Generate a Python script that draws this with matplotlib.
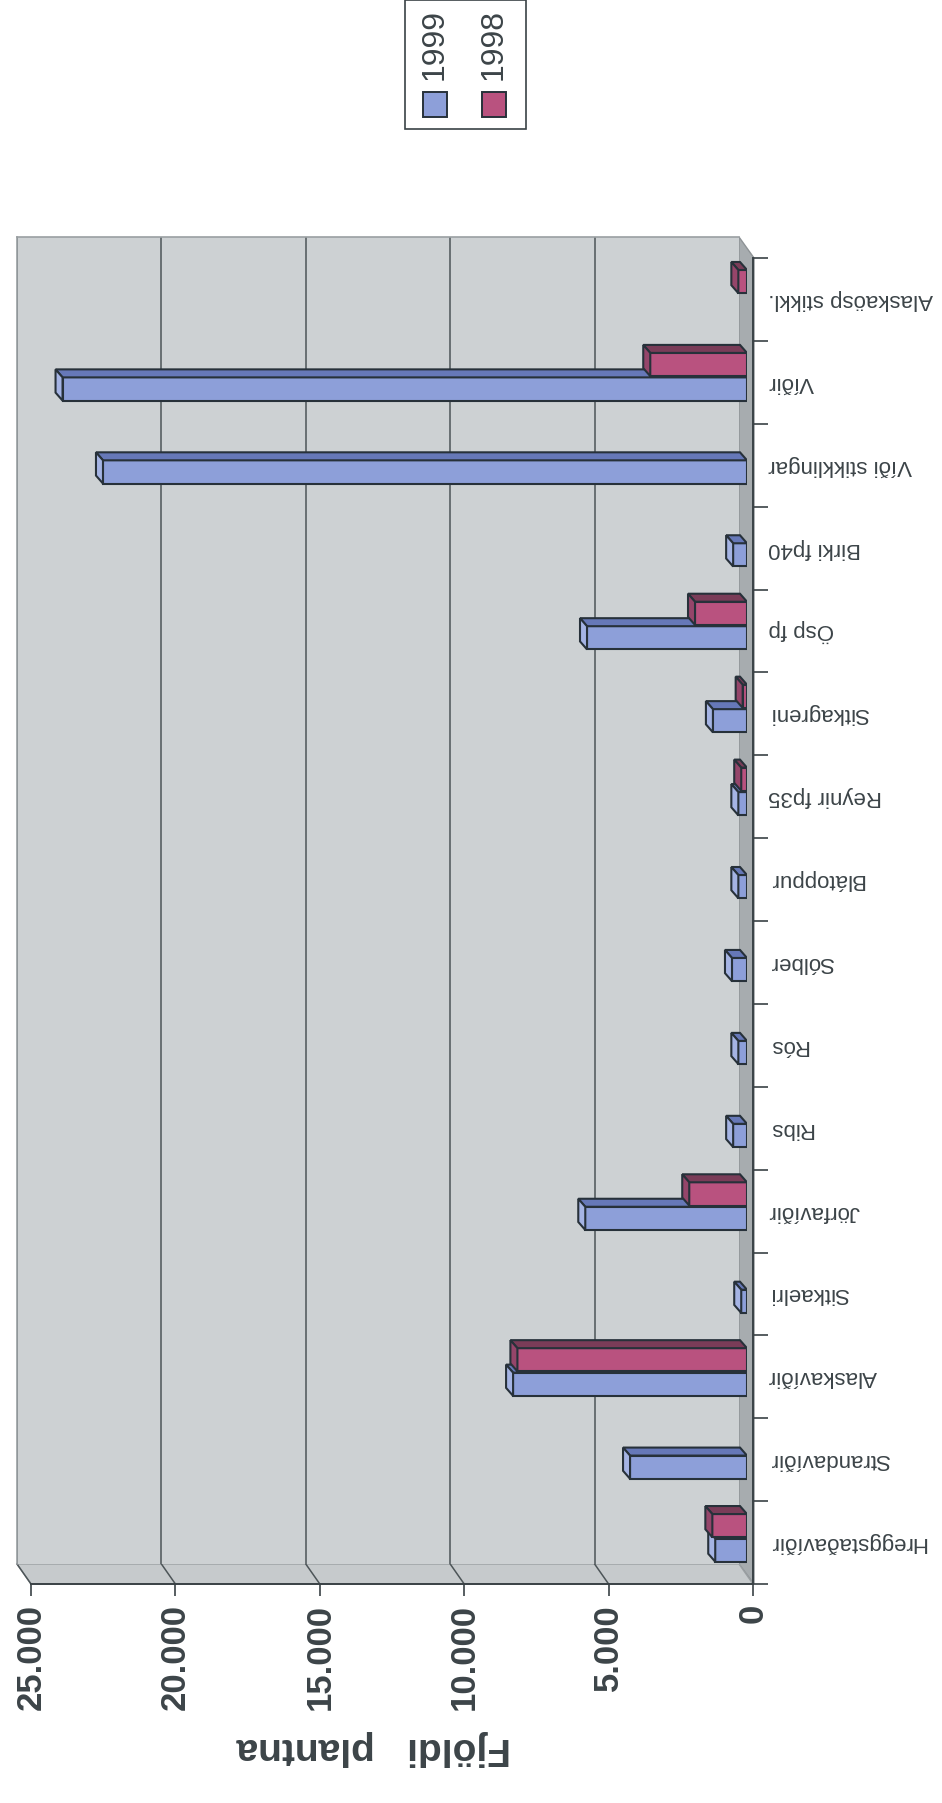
import numpy as np
import matplotlib
matplotlib.use("Agg")
import matplotlib.pyplot as plt
from matplotlib.patches import Polygon, Rectangle
from matplotlib.lines import Line2D

plt.rcParams['font.family'] = ['Liberation Sans', 'DejaVu Sans']

# --- data ---
categories = ["Hreggstaðavíðir", "Strandavíðir", "Alaskavíðir", "Sitkaelri",
              "Jörfavíðir", "Ribs", "Rós", "Sólber", "Blátoppur", "Reynir fp35",
              "Sitkagreni", "Ösp fp", "Birki fp40", "Víði stikklingar", "Víðir",
              "Alaskaösp stikkl."]
vals_1999 = [1100, 4050, 8100, 200, 5600, 480, 300, 520, 300, 300,
             1180, 5540, 480, 22300, 23700, 0]
vals_1998 = [1200, 0, 7950, 0, 2000, 0, 0, 0, 0, 200,
             150, 1800, 0, 0, 3350, 300]
series_names = ["1999", "1998"]
value_ticks = [0, 5000, 10000, 15000, 20000, 25000]
value_labels = ["0", "5.000", "10.000", "15.000", "20.000", "25.000"]
y_title = "Fjöldi   plantna"

# --- colours ---
WALL = '#cdd1d3'
FLOOR = '#a7acaf'
SIDE = '#c6cacc'
GRID = '#4d5558'
EDGE = '#27313a'
TEXT = '#3c4448'
colors = {"1999": ('#8d9fd9', '#6678b8', '#a5b4e4'),
          "1998": ('#b9527f', '#7a3c58', '#95456a')}

W, H = 942, 1803
n = len(categories)
vmax = 25000


def box(x0, y0, x1, y1):
    # pixel box (top-left origin) -> axes rect
    return [x0 / W, 1 - y1 / H, (x1 - x0) / W, (y1 - y0) / H]


def fp(x, y):
    return (x / W, 1 - y / H)


fig = plt.figure(figsize=(9.42, 18.03), dpi=100)

# 1. back wall
ax_wall = fig.add_axes(box(17, 237, 739, 1564))
ax_wall.set_facecolor(WALL)
ax_wall.set_xlim(vmax, 0)
ax_wall.set_ylim(0, n)
for v in value_ticks[1:]:
    ax_wall.axvline(v, color=GRID, lw=1.1)
ax_wall.set_xticks([])
ax_wall.set_yticks([])
for s in ax_wall.spines.values():
    s.set_color('#9a9fa2')
    s.set_linewidth(1.2)
ax_wall.spines['right'].set_visible(False)
ax_wall.spines['bottom'].set_visible(False)

# 2. front axes (ticks, labels)
ax_front = fig.add_axes(box(31, 258, 753, 1584))
ax_front.patch.set_alpha(0)
ax_front.set_xlim(vmax, 0)
ax_front.set_ylim(0, n)

# floor strip (right) and side wall strip (bottom), behind the bars
fig.patches.append(Polygon([fp(739, 237), fp(754, 258), fp(754, 1584), fp(739, 1564)],
                           closed=True, transform=fig.transFigure,
                           facecolor=FLOOR, edgecolor='#8e9396', lw=1, zorder=-2))
fig.patches.append(Polygon([fp(17, 1564), fp(739, 1564), fp(753, 1584), fp(31, 1584)],
                           closed=True, transform=fig.transFigure,
                           facecolor=SIDE, edgecolor='#9a9fa2', lw=1, zorder=-2))
inv = fig.transFigure.inverted()
for v in value_ticks[1:]:
    p0 = inv.transform(ax_wall.transData.transform((v, 0)))
    p1 = inv.transform(ax_front.transData.transform((v, 0)))
    fig.add_artist(Line2D([p0[0], p1[0]], [p0[1], p1[1]], color=GRID, lw=1.1,
                          transform=fig.transFigure, zorder=-1))

for side in ['top', 'left']:
    ax_front.spines[side].set_visible(False)
for side in ['bottom', 'right']:
    ax_front.spines[side].set_color('#3a4246')
    ax_front.spines[side].set_linewidth(1.4)

ax_front.set_xticks(value_ticks)
ax_front.set_xticklabels(value_labels, rotation=90, va='top', ha='center',
                         fontsize=25, fontweight='bold', color=TEXT)
ax_front.tick_params(axis='x', direction='out', length=8.5, width=1.2,
                     color='#3a4246', pad=6)

ax_front.yaxis.tick_right()
ax_front.set_yticks(np.arange(n + 1))
ax_front.set_yticklabels([])
ax_front.tick_params(axis='y', which='major', direction='out', length=11,
                     width=1.2, color='#3a4246')
ax_front.set_yticks(np.arange(n) + 0.5, minor=True)
ax_front.set_yticklabels(categories, minor=True, rotation=180, fontsize=16,
                         color=TEXT, va='center', ha='left')
ax_front.tick_params(axis='y', which='minor', length=0, pad=11)

ax_front.set_xlabel(y_title, rotation=180, fontsize=28, fontweight='bold',
                    color=TEXT, va='center', ha='center')
ax_front.xaxis.set_label_coords((374 - 31) / 722, -(1748 - 1584) / 1326)

# 3. bars (mid-depth plane)
ax_bars = fig.add_axes(box(25, 248, 747, 1575))
ax_bars.patch.set_alpha(0)
ax_bars.set_xlim(vmax, 0)
ax_bars.set_ylim(0, n)
ax_bars.axis('off')

DX = 7 * vmax / 722.0   # depth offset, leftward
DY = 8 * n / 1327.0     # depth offset, upward
bar_h = 0.28
offsets = {"1999": 0.30, "1998": 0.595}


def draw_bar(ax, yc, v, face, top, cap):
    if v <= 0:
        return
    y0, y1 = yc - bar_h / 2, yc + bar_h / 2
    ax.barh(yc, v, height=bar_h, left=0, color=face, edgecolor=EDGE, lw=1.5)
    ax.add_patch(Polygon([(0, y1), (v, y1), (v + DX, y1 + DY), (DX, y1 + DY)],
                         closed=True, facecolor=top, edgecolor=EDGE, lw=1.5))
    ax.add_patch(Polygon([(v, y0), (v, y1), (v + DX, y1 + DY), (v + DX, y0 + DY)],
                         closed=True, facecolor=cap, edgecolor=EDGE, lw=1.5))


for i in range(n):
    for name, vals in zip(series_names, [vals_1999, vals_1998]):
        face, top, cap = colors[name]
        draw_bar(ax_bars, i + offsets[name], vals[i], face, top, cap)

# 4. legend (rotated with the chart)
fig.patches.append(Rectangle(fp(405, 129), 121 / W, 129 / H, transform=fig.transFigure,
                             facecolor='white', edgecolor='#3a4246', lw=1.2))
for name, x in zip(series_names, [423, 482]):
    fig.patches.append(Rectangle(fp(x, 117), 24 / W, 25 / H, transform=fig.transFigure,
                                 facecolor=colors[name][0], edgecolor=EDGE, lw=1.4))
    fig.text(*fp(x + 12, 45), name, rotation=90, fontsize=23, color=TEXT,
             ha='center', va='center')

fig.savefig("out.png", dpi=100, facecolor='white')
